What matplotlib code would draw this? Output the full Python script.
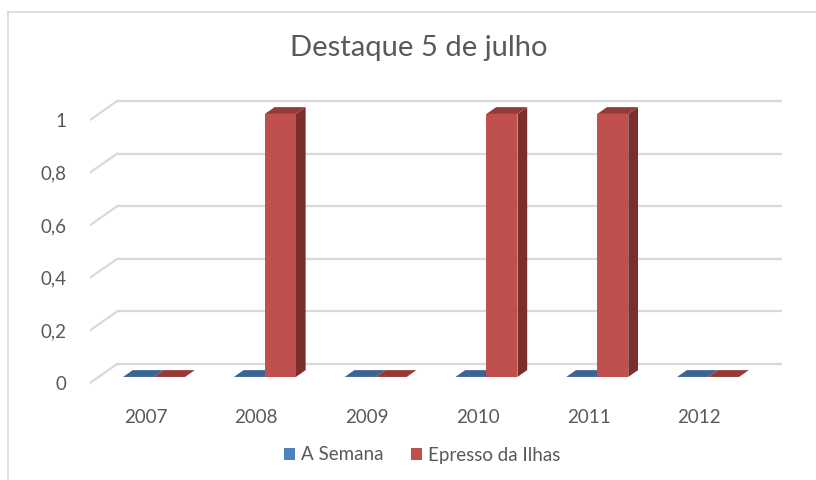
import matplotlib
matplotlib.use("Agg")
import matplotlib.pyplot as plt
from matplotlib.patches import Polygon, Rectangle
import numpy as np

# data
years = ["2007", "2008", "2009", "2010", "2011", "2012"]
a_semana = [0, 0, 0, 0, 0, 0]
epresso = [0, 1, 0, 1, 1, 0]
series_names = ["A Semana", "Epresso da Ilhas"]
ytick_vals = [0, 0.2, 0.4, 0.6, 0.8, 1]
ytick_labels = ["0", "0,2", "0,4", "0,6", "0,8", "1"]

# colours (front, top, side)
cols = {
    "A Semana": ("#4f81bd", "#3d6594", "#2f4f76"),
    "Epresso da Ilhas": ("#c0504d", "#943a37", "#7a2f2d"),
}
grid_col = "#d9d9d9"
txt_col = "#595959"

plt.rcParams['font.family'] = ['Lato', 'DejaVu Sans']

W, H = 816, 480
fig = plt.figure(figsize=(W / 100, H / 100), dpi=100)

# axes in pixel terms: front plane x -0.5..5.5, depth offset dx,dy
dx, dy = 0.244, 0.072
x0, x1 = -0.5, 5.5 + dx
px_per_cat = 110.8
px_per_val = 263.0
left_px = 90
y_lo, y_hi = -0.02, 1.09
zero_py = 383
ax = fig.add_axes([left_px / W,
                   (H - (zero_py - y_lo * px_per_val)) / H,
                   (x1 - x0) * px_per_cat / W,
                   (y_hi - y_lo) * px_per_val / H])
ax.set_xlim(x0, x1)
ax.set_ylim(y_lo, y_hi)
for s in ax.spines.values():
    s.set_visible(False)
ax.set_facecolor("none")

# back wall gridlines + diagonals on the left
for v in ytick_vals:
    ax.plot([-0.5 + dx, 5.5 + dx], [v + dy, v + dy], color=grid_col, lw=1.6, zorder=1,
            solid_capstyle="butt")
    ax.plot([-0.5, -0.5 + dx], [v, v + dy], color=grid_col, lw=1.6, zorder=1)

# 3D bars (oblique projection)
bw = 0.28
d_front, d_back = 0.32, 0.68
for i in range(len(years)):
    for k, (name, vals) in enumerate(zip(series_names, [a_semana, epresso])):
        v = vals[i]
        front, top, side = cols[name]
        xl = i - bw + k * bw + d_front * dx
        yb = d_front * dy
        ox, oy = (d_back - d_front) * dx, (d_back - d_front) * dy
        if v > 0:
            ax.add_patch(Polygon([[xl + bw, yb], [xl + bw + ox, yb + oy],
                                  [xl + bw + ox, yb + v + oy], [xl + bw, yb + v]],
                                 closed=True, facecolor=side, edgecolor="none", zorder=3 + i))
            ax.add_patch(Rectangle((xl, yb), bw, v, facecolor=front, edgecolor="none",
                                   zorder=3 + i))
        ax.add_patch(Polygon([[xl, yb + v], [xl + bw, yb + v],
                              [xl + bw + ox, yb + v + oy], [xl + ox, yb + v + oy]],
                             closed=True, facecolor=top, edgecolor="none", zorder=3 + i))

# ticks
ax.set_yticks(ytick_vals)
ax.set_yticklabels(ytick_labels, fontsize=13.5, color=txt_col)
ax.tick_params(axis="y", length=0, pad=17)
ax.set_xticks(range(len(years)))
ax.set_xticklabels(years, fontsize=13.5, color=txt_col)
ax.tick_params(axis="x", length=0, pad=15)

# title
fig.text(419 / W, 1 - 48 / H, "Destaque 5 de julho", ha="center", va="center",
         fontsize=21, color=txt_col)

# legend
handles = [Rectangle((0, 0), 1, 1, facecolor=cols[n][0]) for n in series_names]
fig.legend(handles, series_names, loc="center", bbox_to_anchor=(422 / W, 1 - 455 / H),
           ncol=2, frameon=False, fontsize=13.5, handlelength=0.6, handleheight=0.6,
           handletextpad=0.3, columnspacing=1.5, labelcolor=txt_col)

# chart frame
fig.add_artist(plt.Line2D([8 / W, 8 / W], [0, 1 - 12 / H], transform=fig.transFigure,
                          color="#d9d9d9", lw=1.2))
fig.add_artist(plt.Line2D([8 / W, 1], [1 - 12 / H, 1 - 12 / H], transform=fig.transFigure,
                          color="#d9d9d9", lw=1.2))

fig.savefig("out.png", dpi=100)
